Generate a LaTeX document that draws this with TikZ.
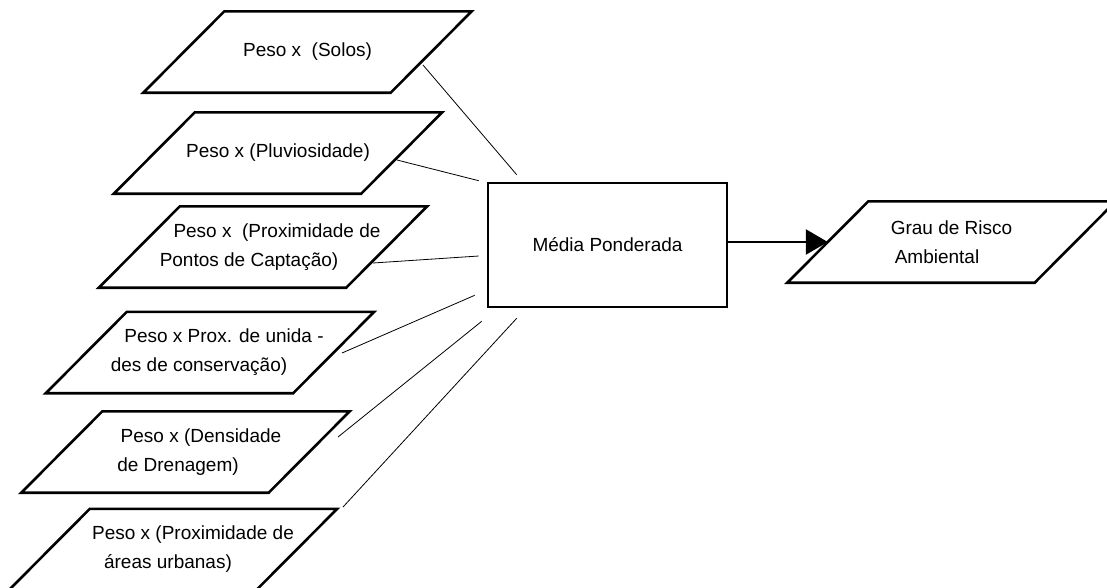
\documentclass[tikz,border=0pt]{standalone}
\usepackage{fontspec}
\setmainfont{Liberation Sans}
\usepackage{tikz}
\usetikzlibrary{shapes,arrows.meta,calc}

\begin{document}
\begin{tikzpicture}[x=1pt,y=-1pt,
  entrada/.style={rectangle, minimum width=247pt, minimum height=81pt, align=center, inner sep=0pt, font=\fontsize{19}{29}\selectfont,
    append after command={\pgfextra{\draw[line width=2.6pt]
      ([xshift=40.5pt]\tikzlastnode.north west) -- ([xshift=40.5pt]\tikzlastnode.north east) --
      ([xshift=-40.5pt]\tikzlastnode.south east) -- ([xshift=-40.5pt]\tikzlastnode.south west) -- cycle;}}},
  caixa/.style={draw, rectangle, minimum width=239pt, minimum height=124pt, line width=2.6pt, font=\fontsize{19}{29}\selectfont},
  liga/.style={line width=0.8pt},
  seta/.style={line width=2.6pt, -{Triangle[length=22pt,width=25pt]}}
  ]
  \useasboundingbox (0,0) rectangle (1107,587);

  \node[entrada] (solos) at (307.5,52) {Peso x\ \ (Solos)};
  \node[entrada] (pluv) at (278,153) {Peso x (Pluviosidade)};
  \node[entrada] (capt) at (263,247) {\hspace*{28pt}Peso x\ \ (Proximidade de\\Pontos de Captação)\hspace*{28pt}};
  \node[entrada] (ucons) at (210,352.5) {\hspace*{28pt}Peso x Prox. de unida -\\des de conservação)\hspace*{22pt}};
  \node[entrada] (dren) at (185.5,452) {\hspace*{31pt}Peso x (Densidade\\de Drenagem)\hspace*{15pt}};
  \node[entrada] (urb) at (173,549.5) {\hspace*{40pt}Peso x (Proximidade de\\áreas urbanas)\hspace*{10pt}};

  \node[caixa] (media) at (607.5,245) {Média Ponderada};
  \node[entrada, align=left] (risco) at (951.5,242) {Grau de Risco\\\hspace*{4pt}Ambiental};

  % ligacoes ate a media
  \draw[liga] ([shift={(115.5,13)}]solos.center) -- ([shift={(30,-7)}]media.north west);
  \draw[liga] ([shift={(119,7)}]pluv.center) -- ([shift={(-8,-1)}]media.north west);
  \draw[liga] ([shift={(110,16)}]capt.center) -- ([shift={(-8,11)}]media.west);
  \draw[liga] ([shift={(132,0.5)}]ucons.center) -- ([shift={(-12,-13)}]media.south west);
  \draw[liga] ([shift={(152.5,-15)}]dren.center) -- ([shift={(-5,13)}]media.south west);
  \draw[liga] ([shift={(170,-42.5)}]urb.center) -- ([shift={(30,10)}]media.south west);

  \draw[seta] (media.east |- risco.west) -- (risco.west);

\end{tikzpicture}
\end{document}
